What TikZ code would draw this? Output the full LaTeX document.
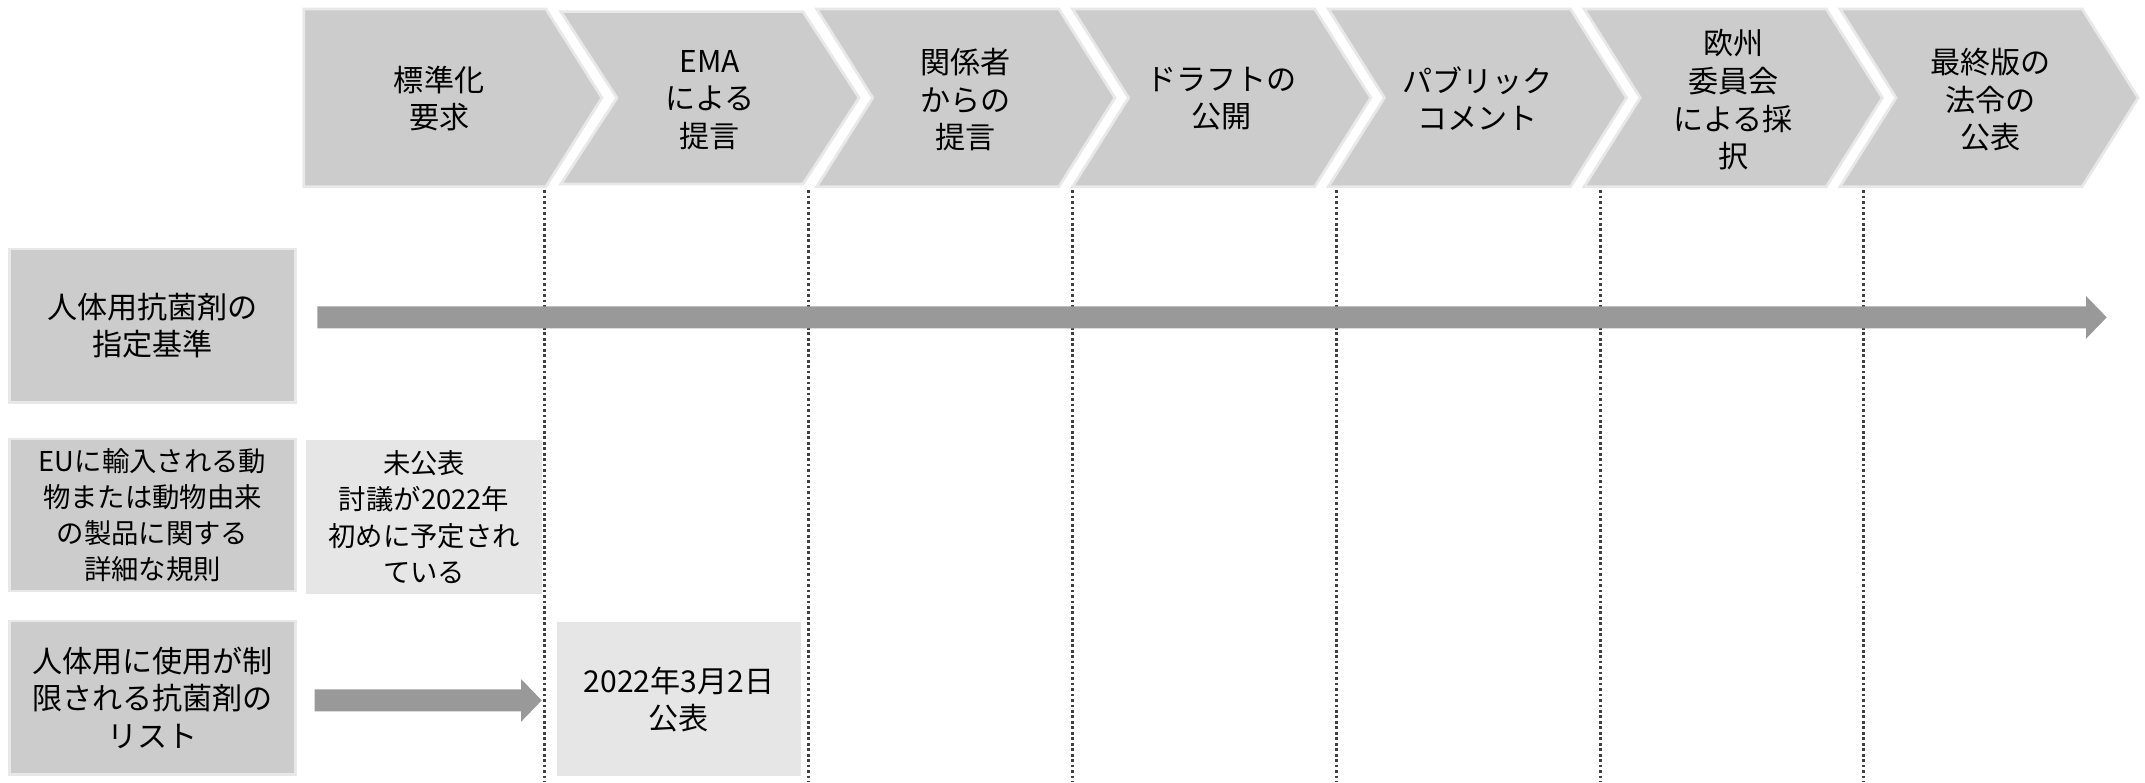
\documentclass[tikz,border=0pt]{standalone}
\usepackage{fontspec}
\setmainfont{Noto Sans CJK JP}
\usetikzlibrary{calc}
\definecolor{boxgray}{HTML}{CCCCCC}
\definecolor{notegray}{HTML}{E6E6E6}
\definecolor{edgegray}{HTML}{E8E8E8}
\definecolor{arrowgray}{HTML}{999999}
\definecolor{dotgray}{HTML}{404040}
\begin{document}
\begin{tikzpicture}[x=0.5pt,y=-0.5pt,
  chev/.style={fill=boxgray, draw=edgegray, line width=1pt, line join=miter},
  lbl/.style={font=\fontsize{11}{13.75}\selectfont, align=center, inner sep=0pt},
  rowbox/.style={fill=boxgray, draw=edgegray, line width=1pt, inner sep=0pt, align=center,
                 minimum width=104.5pt},
  notebox/.style={fill=notegray, inner sep=0pt, align=center},
  big/.style={font=\fontsize{11}{13.75}\selectfont},
  small/.style={font=\fontsize{10}{13.25}\selectfont},
  sep/.style={draw=dotgray, line width=1pt, dash pattern=on 1pt off 1pt},
  flow/.style={fill=arrowgray},
]
\useasboundingbox (0,0) rectangle (1568,572);

% dotted separators
\foreach \x in {398,591,784,977,1170,1362}
  \draw[sep] (\x,139) -- (\x,572);

% chevrons
\path[chev] (222,6.5) -- (399,6.5) -- (440,71.5) -- (399,136.5) -- (222,136.5) -- cycle;
\path[chev] (410,8.5) -- (587,8.5) -- (628,71.5) -- (587,134.5) -- (410,134.5) -- (451,71.5) -- cycle;
\foreach \L in {597,784,971,1158,1345}
  \path[chev] (\L,6.5) -- ({\L+177},6.5) -- ({\L+218},71.5) -- ({\L+177},136.5)
              -- (\L,136.5) -- ({\L+41},71.5) -- cycle;

\node[lbl] (c1) at (321,72) {標準化\\要求};
\node[lbl] (c2) at (519,73) {EMA\\による\\提言};
\node[lbl] (c3) at (706,73) {関係者\\からの\\提言};
\node[lbl] (c4) at (893,72) {ドラフトの\\公開};
\node[lbl] (c5) at (1080,72) {パブリック\\コメント};
\node[lbl] (c6) at (1267,73) {欧州\\委員会\\による採\\択};
\node[lbl] (c7) at (1455,73) {最終版の\\法令の\\公表};

% row labels
\node[rowbox, big, minimum height=56pt] (r1) at (111.5,238) {人体用抗菌剤の\\指定基準};
\node[rowbox, small, minimum height=55.5pt] (r2) at (111.5,376.5) {EUに輸入される動\\物または動物由来\\の製品に関する\\詳細な規則};
\node[rowbox, big, minimum height=56pt] (r3) at (111.5,510) {人体用に使用が制\\限される抗菌剤の\\リスト};

% notes
\node[notebox, small, minimum width=86pt, minimum height=56pt] (n2) at (310,378)
  {未公表\\討議が2022年\\初めに予定され\\ている};
\node[notebox, big, minimum width=89.3pt, minimum height=56.3pt] (n3) at (496.3,511.3)
  {2022年3月2日\\公表};

% block arrows
\coordinate (a1s) at (232,232);
\coordinate (a1e) at (1540,232);
\fill[flow] ($(a1s)+(0,-8)$) -- ($(a1e)+(-15,-8)$) -- ($(a1e)+(-15,-15.5)$) -- (a1e)
  -- ($(a1e)+(-15,15.5)$) -- ($(a1e)+(-15,8)$) -- ($(a1s)+(0,8)$) -- cycle;

\coordinate (a3s) at (230,512);
\coordinate (a3e) at (396,512);
\fill[flow] ($(a3s)+(0,-8)$) -- ($(a3e)+(-15,-8)$) -- ($(a3e)+(-15,-15.5)$) -- (a3e)
  -- ($(a3e)+(-15,15.5)$) -- ($(a3e)+(-15,8)$) -- ($(a3s)+(0,8)$) -- cycle;
\end{tikzpicture}
\end{document}
